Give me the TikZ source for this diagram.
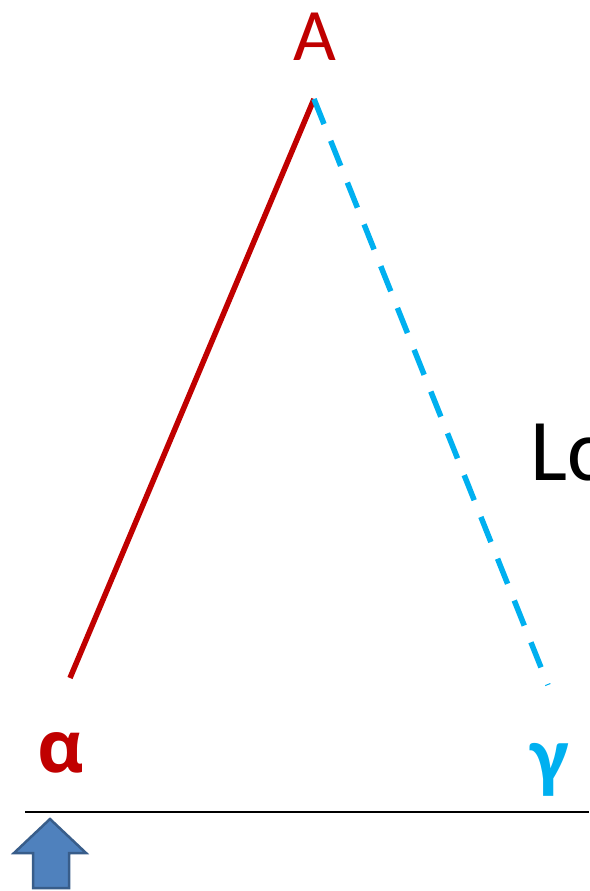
\documentclass[tikz,border=0pt]{standalone}
\usepackage{fontspec}
\setmainfont{Carlito}
\newfontfamily\greekfont{Open Sans}
\usepackage{tikz}
\definecolor{red}{RGB}{192, 0, 0}
\definecolor{blue}{RGB}{0, 176, 240}
\definecolor{arrowfill}{RGB}{79, 129, 189}
\definecolor{arrowline}{RGB}{56, 93, 138}
\tikzset{
    label/.style={inner sep=0pt, anchor=base},
    side/.style={line width=5.5pt, line cap=butt}
}

\begin{document}
\begin{tikzpicture}[x=1pt, y=-1pt]
        \useasboundingbox (0,0) rectangle (589,891);

        % Corner points
        \coordinate (apex) at (314,99);
        \coordinate (left) at (70,678);
        \coordinate (right) at (548,685);

        % Labels
        \node[label, red] (A) at (315,61) {\fontsize{74}{76}\selectfont A};
        \node[label, red] (alpha) at (61,772) {\fontsize{72}{74}\selectfont\greekfont\bfseries α};
        \node[label, blue] (gamma) at (550,783) {\fontsize{82}{84}\selectfont\bfseries γ};
        \node[label, anchor=base west] (Lc) at (530,480) {\fontsize{88}{90}\selectfont Lc};

        % Sides
        \draw[side, red] (left) -- (apex);
        \draw[side, blue, dash pattern=on 27pt off 18pt] (apex) -- (right);

        % Base line
        \coordinate (base west) at (25,812);
        \coordinate (base east) at (589,812);
        \draw[line width=2pt] (base west) -- (base east);

        % Block arrow pointing up
        \filldraw[fill=arrowfill, draw=arrowline, line width=2.5pt, line join=miter]
            (50,819) -- (86,853) -- (69,853) -- (69,888) -- (33,888) -- (33,853) -- (14,853) -- cycle;
    \end{tikzpicture}
\end{document}
